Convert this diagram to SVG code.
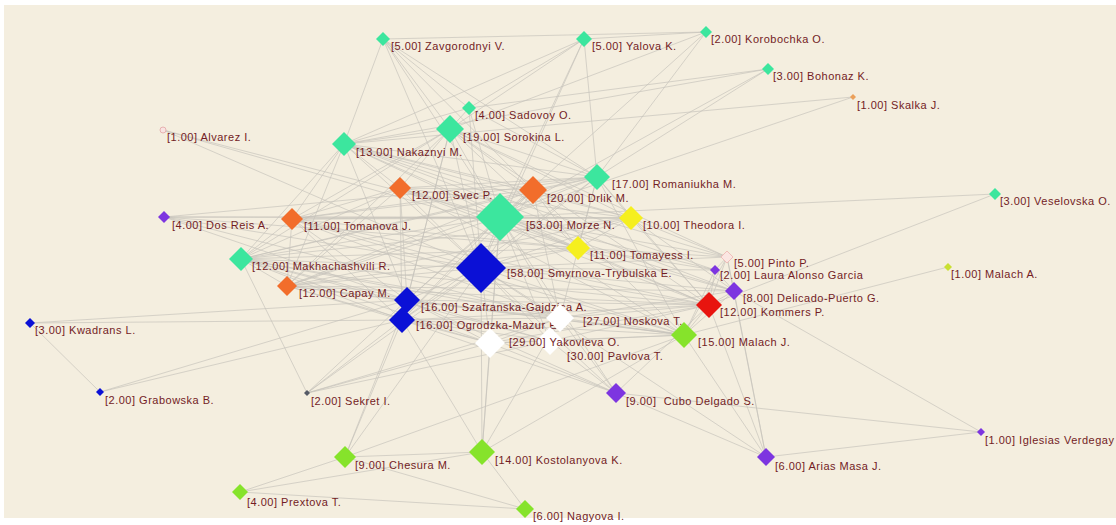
<svg xmlns="http://www.w3.org/2000/svg" width="1116" height="525" viewBox="0 0 1116 525">
<style>
.bg{fill:#f4eedf}
#connectors line{stroke:#c6c3bb;stroke-width:0.9;opacity:0.75}
text{font-family:"Liberation Sans",Arial,sans-serif;font-size:11px;letter-spacing:0.5px;fill:#731c25;white-space:pre}
.gr{fill:#3ce69e}
.or{fill:#f26d2b}
.bl{fill:#0b10d6}
.ye{fill:#f5ef1f}
.pu{fill:#7d35e0}
.re{fill:#e8140f}
.li{fill:#86e32b}
.wh{fill:#ffffff}
</style>
<rect width="1116" height="525" fill="#ffffff"/>
<rect class="bg" x="4" y="5" width="1112" height="513"/>
<g id="connectors">
<line x1="383" y1="39" x2="706" y2="32"/><line x1="584" y1="39" x2="706" y2="32"/>
<line x1="383" y1="39" x2="450" y2="129"/><line x1="383" y1="39" x2="500" y2="217"/>
<line x1="383" y1="39" x2="481" y2="268"/><line x1="383" y1="39" x2="344" y2="144"/>
<line x1="383" y1="39" x2="597" y2="177"/><line x1="383" y1="39" x2="533" y2="190"/>
<line x1="383" y1="39" x2="469" y2="108"/>
<line x1="584" y1="39" x2="500" y2="217"/><line x1="584" y1="39" x2="597" y2="177"/>
<line x1="584" y1="39" x2="450" y2="129"/><line x1="584" y1="39" x2="481" y2="268"/>
<line x1="584" y1="39" x2="344" y2="144"/><line x1="584" y1="39" x2="469" y2="108"/>
<line x1="706" y1="32" x2="500" y2="217"/><line x1="706" y1="32" x2="597" y2="177"/>
<line x1="706" y1="32" x2="450" y2="129"/>
<line x1="768" y1="69" x2="469" y2="108"/><line x1="768" y1="69" x2="500" y2="217"/>
<line x1="768" y1="69" x2="597" y2="177"/><line x1="768" y1="69" x2="344" y2="144"/>
<line x1="853" y1="97" x2="344" y2="144"/><line x1="853" y1="97" x2="500" y2="217"/>
<line x1="469" y1="108" x2="450" y2="129"/><line x1="469" y1="108" x2="500" y2="217"/>
<line x1="469" y1="108" x2="344" y2="144"/><line x1="469" y1="108" x2="597" y2="177"/>
<line x1="469" y1="108" x2="481" y2="268"/>
<line x1="163" y1="130" x2="500" y2="217"/><line x1="163" y1="130" x2="578" y2="248"/>
<line x1="163" y1="130" x2="481" y2="268"/>
<line x1="164" y1="217" x2="500" y2="217"/><line x1="164" y1="217" x2="481" y2="268"/>
<line x1="164" y1="217" x2="578" y2="248"/><line x1="164" y1="217" x2="631" y2="218"/>
<line x1="164" y1="217" x2="407" y2="300"/><line x1="164" y1="217" x2="597" y2="177"/>
<line x1="164" y1="217" x2="560" y2="318"/>
<line x1="995" y1="194" x2="500" y2="217"/><line x1="995" y1="194" x2="709" y2="305"/>
<line x1="948" y1="267" x2="684" y2="335"/>
<line x1="30" y1="323" x2="402" y2="320"/><line x1="30" y1="323" x2="407" y2="300"/>
<line x1="30" y1="323" x2="100" y2="392"/>
<line x1="100" y1="392" x2="402" y2="320"/><line x1="100" y1="392" x2="407" y2="300"/>
<line x1="307" y1="393" x2="402" y2="320"/><line x1="307" y1="393" x2="407" y2="300"/>
<line x1="307" y1="393" x2="490" y2="343"/><line x1="307" y1="393" x2="550" y2="341"/>
<line x1="307" y1="393" x2="560" y2="318"/><line x1="307" y1="393" x2="241" y2="259"/>
<line x1="307" y1="393" x2="481" y2="268"/>
<line x1="345" y1="457" x2="482" y2="452"/><line x1="345" y1="457" x2="525" y2="509"/>
<line x1="345" y1="457" x2="240" y2="492"/><line x1="345" y1="457" x2="402" y2="320"/>
<line x1="345" y1="457" x2="481" y2="268"/><line x1="345" y1="457" x2="684" y2="335"/>
<line x1="345" y1="457" x2="407" y2="300"/>
<line x1="482" y1="452" x2="525" y2="509"/><line x1="482" y1="452" x2="240" y2="492"/>
<line x1="482" y1="452" x2="481" y2="268"/><line x1="482" y1="452" x2="500" y2="217"/>
<line x1="482" y1="452" x2="490" y2="343"/><line x1="482" y1="452" x2="560" y2="318"/>
<line x1="482" y1="452" x2="684" y2="335"/><line x1="482" y1="452" x2="402" y2="320"/>
<line x1="240" y1="492" x2="525" y2="509"/>
<line x1="616" y1="393" x2="481" y2="268"/><line x1="616" y1="393" x2="490" y2="343"/>
<line x1="616" y1="393" x2="560" y2="318"/><line x1="616" y1="393" x2="550" y2="341"/>
<line x1="616" y1="393" x2="766" y2="457"/><line x1="616" y1="393" x2="981" y2="432"/>
<line x1="616" y1="393" x2="709" y2="305"/><line x1="616" y1="393" x2="500" y2="217"/>
<line x1="616" y1="393" x2="407" y2="300"/><line x1="616" y1="393" x2="402" y2="320"/>
<line x1="766" y1="457" x2="734" y2="291"/><line x1="766" y1="457" x2="709" y2="305"/>
<line x1="766" y1="457" x2="981" y2="432"/><line x1="766" y1="457" x2="684" y2="335"/>
<line x1="766" y1="457" x2="727" y2="257"/><line x1="766" y1="457" x2="481" y2="268"/>
<line x1="981" y1="432" x2="734" y2="291"/>
<line x1="450" y1="129" x2="344" y2="144"/><line x1="450" y1="129" x2="500" y2="217"/>
<line x1="450" y1="129" x2="481" y2="268"/><line x1="450" y1="129" x2="597" y2="177"/>
<line x1="450" y1="129" x2="533" y2="190"/><line x1="450" y1="129" x2="400" y2="188"/>
<line x1="450" y1="129" x2="292" y2="219"/><line x1="450" y1="129" x2="241" y2="259"/>
<line x1="450" y1="129" x2="631" y2="218"/><line x1="450" y1="129" x2="578" y2="248"/>
<line x1="450" y1="129" x2="287" y2="286"/><line x1="450" y1="129" x2="407" y2="300"/>
<line x1="450" y1="129" x2="402" y2="320"/><line x1="450" y1="129" x2="709" y2="305"/>
<line x1="450" y1="129" x2="727" y2="257"/>
<line x1="344" y1="144" x2="500" y2="217"/><line x1="344" y1="144" x2="481" y2="268"/>
<line x1="344" y1="144" x2="597" y2="177"/><line x1="344" y1="144" x2="533" y2="190"/>
<line x1="344" y1="144" x2="400" y2="188"/><line x1="344" y1="144" x2="292" y2="219"/>
<line x1="344" y1="144" x2="241" y2="259"/><line x1="344" y1="144" x2="631" y2="218"/>
<line x1="344" y1="144" x2="578" y2="248"/><line x1="344" y1="144" x2="287" y2="286"/>
<line x1="344" y1="144" x2="407" y2="300"/><line x1="344" y1="144" x2="734" y2="291"/>
<line x1="344" y1="144" x2="727" y2="257"/><line x1="344" y1="144" x2="715" y2="270"/>
<line x1="597" y1="177" x2="500" y2="217"/><line x1="597" y1="177" x2="481" y2="268"/>
<line x1="597" y1="177" x2="533" y2="190"/><line x1="597" y1="177" x2="400" y2="188"/>
<line x1="597" y1="177" x2="292" y2="219"/><line x1="597" y1="177" x2="241" y2="259"/>
<line x1="597" y1="177" x2="631" y2="218"/><line x1="597" y1="177" x2="578" y2="248"/>
<line x1="597" y1="177" x2="287" y2="286"/><line x1="597" y1="177" x2="402" y2="320"/>
<line x1="597" y1="177" x2="709" y2="305"/><line x1="597" y1="177" x2="684" y2="335"/>
<line x1="597" y1="177" x2="560" y2="318"/>
<line x1="400" y1="188" x2="500" y2="217"/><line x1="400" y1="188" x2="481" y2="268"/>
<line x1="400" y1="188" x2="533" y2="190"/><line x1="400" y1="188" x2="292" y2="219"/>
<line x1="400" y1="188" x2="241" y2="259"/><line x1="400" y1="188" x2="287" y2="286"/>
<line x1="400" y1="188" x2="631" y2="218"/><line x1="400" y1="188" x2="578" y2="248"/>
<line x1="400" y1="188" x2="407" y2="300"/><line x1="400" y1="188" x2="402" y2="320"/>
<line x1="400" y1="188" x2="709" y2="305"/><line x1="400" y1="188" x2="684" y2="335"/>
<line x1="533" y1="190" x2="500" y2="217"/><line x1="533" y1="190" x2="481" y2="268"/>
<line x1="533" y1="190" x2="292" y2="219"/><line x1="533" y1="190" x2="241" y2="259"/>
<line x1="533" y1="190" x2="287" y2="286"/><line x1="533" y1="190" x2="631" y2="218"/>
<line x1="533" y1="190" x2="578" y2="248"/><line x1="533" y1="190" x2="407" y2="300"/>
<line x1="533" y1="190" x2="402" y2="320"/><line x1="533" y1="190" x2="560" y2="318"/>
<line x1="533" y1="190" x2="684" y2="335"/>
<line x1="500" y1="217" x2="481" y2="268"/><line x1="500" y1="217" x2="631" y2="218"/>
<line x1="500" y1="217" x2="578" y2="248"/><line x1="500" y1="217" x2="292" y2="219"/>
<line x1="500" y1="217" x2="241" y2="259"/><line x1="500" y1="217" x2="287" y2="286"/>
<line x1="500" y1="217" x2="407" y2="300"/><line x1="500" y1="217" x2="402" y2="320"/>
<line x1="500" y1="217" x2="560" y2="318"/><line x1="500" y1="217" x2="490" y2="343"/>
<line x1="500" y1="217" x2="550" y2="341"/><line x1="500" y1="217" x2="684" y2="335"/>
<line x1="500" y1="217" x2="709" y2="305"/><line x1="500" y1="217" x2="734" y2="291"/>
<line x1="500" y1="217" x2="727" y2="257"/><line x1="500" y1="217" x2="715" y2="270"/>
<line x1="631" y1="218" x2="578" y2="248"/><line x1="631" y1="218" x2="481" y2="268"/>
<line x1="631" y1="218" x2="292" y2="219"/><line x1="631" y1="218" x2="241" y2="259"/>
<line x1="631" y1="218" x2="287" y2="286"/><line x1="631" y1="218" x2="709" y2="305"/>
<line x1="631" y1="218" x2="734" y2="291"/><line x1="631" y1="218" x2="727" y2="257"/>
<line x1="578" y1="248" x2="481" y2="268"/><line x1="578" y1="248" x2="292" y2="219"/>
<line x1="578" y1="248" x2="241" y2="259"/><line x1="578" y1="248" x2="287" y2="286"/>
<line x1="578" y1="248" x2="709" y2="305"/><line x1="578" y1="248" x2="734" y2="291"/>
<line x1="578" y1="248" x2="715" y2="270"/><line x1="578" y1="248" x2="727" y2="257"/>
<line x1="292" y1="219" x2="241" y2="259"/><line x1="292" y1="219" x2="287" y2="286"/>
<line x1="292" y1="219" x2="481" y2="268"/><line x1="292" y1="219" x2="407" y2="300"/>
<line x1="292" y1="219" x2="402" y2="320"/><line x1="292" y1="219" x2="709" y2="305"/>
<line x1="292" y1="219" x2="684" y2="335"/><line x1="292" y1="219" x2="560" y2="318"/>
<line x1="241" y1="259" x2="287" y2="286"/><line x1="241" y1="259" x2="481" y2="268"/>
<line x1="241" y1="259" x2="407" y2="300"/><line x1="241" y1="259" x2="402" y2="320"/>
<line x1="241" y1="259" x2="709" y2="305"/><line x1="241" y1="259" x2="684" y2="335"/>
<line x1="241" y1="259" x2="560" y2="318"/><line x1="241" y1="259" x2="490" y2="343"/>
<line x1="241" y1="259" x2="550" y2="341"/>
<line x1="287" y1="286" x2="481" y2="268"/><line x1="287" y1="286" x2="407" y2="300"/>
<line x1="287" y1="286" x2="402" y2="320"/><line x1="287" y1="286" x2="709" y2="305"/>
<line x1="287" y1="286" x2="684" y2="335"/><line x1="287" y1="286" x2="734" y2="291"/>
<line x1="287" y1="286" x2="490" y2="343"/>
<line x1="481" y1="268" x2="407" y2="300"/><line x1="481" y1="268" x2="402" y2="320"/>
<line x1="481" y1="268" x2="560" y2="318"/><line x1="481" y1="268" x2="490" y2="343"/>
<line x1="481" y1="268" x2="550" y2="341"/><line x1="481" y1="268" x2="684" y2="335"/>
<line x1="481" y1="268" x2="709" y2="305"/><line x1="481" y1="268" x2="734" y2="291"/>
<line x1="481" y1="268" x2="727" y2="257"/><line x1="481" y1="268" x2="715" y2="270"/>
<line x1="407" y1="300" x2="402" y2="320"/><line x1="407" y1="300" x2="560" y2="318"/>
<line x1="407" y1="300" x2="490" y2="343"/><line x1="407" y1="300" x2="550" y2="341"/>
<line x1="407" y1="300" x2="684" y2="335"/><line x1="407" y1="300" x2="709" y2="305"/>
<line x1="402" y1="320" x2="560" y2="318"/><line x1="402" y1="320" x2="490" y2="343"/>
<line x1="402" y1="320" x2="550" y2="341"/><line x1="402" y1="320" x2="684" y2="335"/>
<line x1="402" y1="320" x2="709" y2="305"/>
<line x1="560" y1="318" x2="490" y2="343"/><line x1="560" y1="318" x2="550" y2="341"/>
<line x1="560" y1="318" x2="684" y2="335"/><line x1="560" y1="318" x2="709" y2="305"/>
<line x1="560" y1="318" x2="734" y2="291"/>
<line x1="490" y1="343" x2="550" y2="341"/><line x1="490" y1="343" x2="684" y2="335"/>
<line x1="490" y1="343" x2="709" y2="305"/>
<line x1="550" y1="341" x2="684" y2="335"/><line x1="550" y1="341" x2="709" y2="305"/>
<line x1="684" y1="335" x2="709" y2="305"/><line x1="684" y1="335" x2="734" y2="291"/>
<line x1="684" y1="335" x2="727" y2="257"/><line x1="684" y1="335" x2="715" y2="270"/>
<line x1="709" y1="305" x2="734" y2="291"/><line x1="709" y1="305" x2="727" y2="257"/>
<line x1="709" y1="305" x2="715" y2="270"/>
<line x1="734" y1="291" x2="727" y2="257"/><line x1="734" y1="291" x2="715" y2="270"/>
<line x1="727" y1="257" x2="715" y2="270"/>
</g>
<g id="nodes">
<g id="n-zav"><polygon class="gr" points="383,32 390,39 383,46 376,39"/><text x="391" y="50">[5.00] Zavgorodnyi V.</text></g>
<g id="n-yal"><polygon class="gr" points="584,31 592,39 584,47 576,39"/><text x="592" y="50">[5.00] Yalova K.</text></g>
<g id="n-kor"><polygon class="gr" points="706,26 712,32 706,38 700,32"/><text x="711" y="43">[2.00] Korobochka O.</text></g>
<g id="n-boh"><polygon class="gr" points="768,63 774,69 768,75 762,69"/><text x="773" y="80">[3.00] Bohonaz K.</text></g>
<g id="n-ska"><polygon fill="#eba05a" points="853,94 856,97 853,100 850,97"/><text x="857" y="109">[1.00] Skalka J.</text></g>
<g id="n-sad"><polygon class="gr" points="469,101 476,108 469,115 462,108"/><text x="475" y="119">[4.00] Sadovoy O.</text></g>
<g id="n-sor"><polygon class="gr" points="450,115 464,129 450,143 436,129"/><text x="463" y="141">[19.00] Sorokina L.</text></g>
<g id="n-alv"><circle cx="163" cy="130" r="3" fill="#f8e4e2" stroke="#e3a4a4" stroke-width="0.8"/><text x="167" y="141">[1.00] Alvarez I.</text></g>
<g id="n-nak"><polygon class="gr" points="344,132 356,144 344,156 332,144"/><text x="356" y="156">[13.00] Nakaznyi M.</text></g>
<g id="n-rom"><polygon class="gr" points="597,164 610,177 597,190 584,177"/><text x="612" y="188">[17.00] Romaniukha M.</text></g>
<g id="n-sve"><polygon class="or" points="400,177 411,188 400,199 389,188"/><text x="412" y="199">[12.00] Svec P.</text></g>
<g id="n-drl"><polygon class="or" points="533,176 547,190 533,204 519,190"/><text x="547" y="202">[20.00] Drlik M.</text></g>
<g id="n-mor"><polygon class="gr" points="500,193 524,217 500,241 476,217"/><text x="526" y="229">[53.00] Morze N.</text></g>
<g id="n-the"><polygon class="ye" points="631,206 643,218 631,230 619,218"/><text x="643" y="229">[10.00] Theodora I.</text></g>
<g id="n-dos"><polygon class="pu" points="164,211 170,217 164,223 158,217"/><text x="172" y="229">[4.00] Dos Reis A.</text></g>
<g id="n-tom"><polygon class="or" points="292,208 303,219 292,230 281,219"/><text x="304" y="230">[11.00] Tomanova J.</text></g>
<g id="n-tmy"><polygon class="ye" points="578,236 590,248 578,260 566,248"/><text x="590" y="259">[11.00] Tomayess I.</text></g>
<g id="n-mak"><polygon class="gr" points="241,247 253,259 241,271 229,259"/><text x="252" y="270">[12.00] Makhachashvili R.</text></g>
<g id="n-smy"><polygon class="bl" points="481,243 506,268 481,293 456,268"/><text x="507" y="277">[58.00] Smyrnova-Trybulska E.</text></g>
<g id="n-pin"><polygon fill="#fbe6e2" stroke="#eeb4b0" stroke-width="0.8" points="727,251 733,257 727,263 721,257"/><text x="734" y="267">[5.00] Pinto P.</text></g>
<g id="n-lau"><polygon class="pu" points="715,265 720,270 715,275 710,270"/><text x="720" y="279">[2.00] Laura Alonso Garcia</text></g>
<g id="n-mla"><polygon fill="#c9e032" points="948,263 952,267 948,271 944,267"/><text x="951" y="278">[1.00] Malach A.</text></g>
<g id="n-cap"><polygon class="or" points="287,276 297,286 287,296 277,286"/><text x="299" y="297">[12.00] Capay M.</text></g>
<g id="n-del"><polygon class="pu" points="734,282 743,291 734,300 725,291"/><text x="743" y="302">[8.00] Delicado-Puerto G.</text></g>
<g id="n-sza"><polygon class="bl" points="407,287 420,300 407,313 394,300"/><text x="421" y="311">[16.00] Szafranska-Gajdzica A.</text></g>
<g id="n-kwa"><polygon class="bl" points="30,318 35,323 30,328 25,323"/><text x="35" y="334">[3.00] Kwadrans L.</text></g>
<g id="n-kom"><polygon class="re" points="709,292 722,305 709,318 696,305"/><text x="720" y="316">[12.00] Kommers P.</text></g>
<g id="n-ogr"><polygon class="bl" points="402,307 415,320 402,333 389,320"/><text x="416" y="329">[16.00] Ogrodzka-Mazur E.</text></g>
<g id="n-pav"><polygon class="wh" points="550,327 564,341 550,355 536,341"/><text x="567" y="360">[30.00] Pavlova T.</text></g>
<g id="n-nos"><polygon class="wh" points="560,304 574,318 560,332 546,318"/><text x="583" y="325">[27.00] Noskova T.</text></g>
<g id="n-mal"><polygon class="li" points="684,322 697,335 684,348 671,335"/><text x="698" y="346">[15.00] Malach J.</text></g>
<g id="n-yak"><polygon class="wh" points="490,328 505,343 490,358 475,343"/><text x="509" y="346">[29.00] Yakovleva O.</text></g>
<g id="n-cub"><polygon class="pu" points="616,383 626,393 616,403 606,393"/><text x="626" y="405">[9.00]  Cubo Delgado S.</text></g>
<g id="n-gra"><polygon class="bl" points="100,388 104,392 100,396 96,392"/><text x="105" y="404">[2.00] Grabowska B.</text></g>
<g id="n-sek"><polygon fill="#555a66" points="307,390 310,393 307,396 304,393"/><text x="311" y="405">[2.00] Sekret I.</text></g>
<g id="n-igl"><polygon class="pu" points="981,428 985,432 981,436 977,432"/><text x="985" y="444">[1.00] Iglesias Verdegay</text></g>
<g id="n-che"><polygon class="li" points="345,446 356,457 345,468 334,457"/><text x="355" y="469">[9.00] Chesura M.</text></g>
<g id="n-kos"><polygon class="li" points="482,439 495,452 482,465 469,452"/><text x="495" y="464">[14.00] Kostolanyova K.</text></g>
<g id="n-ari"><polygon class="pu" points="766,448 775,457 766,466 757,457"/><text x="775" y="470">[6.00] Arias Masa J.</text></g>
<g id="n-pre"><polygon class="li" points="240,484 248,492 240,500 232,492"/><text x="247" y="506">[4.00] Prextova T.</text></g>
<g id="n-nag"><polygon class="li" points="525,500 534,509 525,518 516,509"/><text x="533" y="520">[6.00] Nagyova I.</text></g>
<g id="n-ves"><polygon class="gr" points="995,188 1001,194 995,200 989,194"/><text x="1000" y="205">[3.00] Veselovska O.</text></g>
</g>
</svg>
